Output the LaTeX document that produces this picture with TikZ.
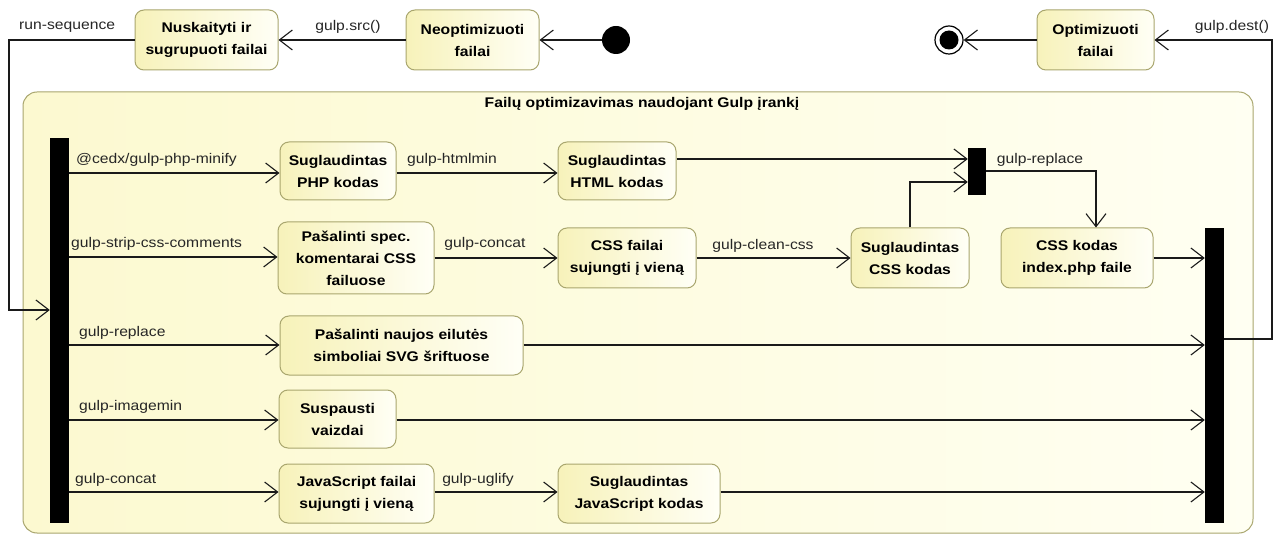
\documentclass[tikz,border=0pt]{standalone}
\usepackage{fontspec}
\setmainfont{Liberation Sans}[FakeStretch=1.12]
\usetikzlibrary{arrows.meta}
\definecolor{boxY}{HTML}{F7F2BA}
\definecolor{boxW}{HTML}{FFFFF6}
\definecolor{boxB}{HTML}{A9A66E}
\definecolor{contY}{HTML}{FCF9D0}
\definecolor{contW}{HTML}{FFFFF2}
\definecolor{lineC}{HTML}{1A1A1A}
\begin{document}
\begin{tikzpicture}[x=1pt,y=-1pt,
  act/.style={draw=boxB, line width=1pt, rounded corners=9pt, left color=boxY, right color=boxW,
    align=center, font=\fontsize{14}{22}\selectfont\bfseries, inner sep=0pt},
  bar/.style={fill=black, draw=none, inner sep=0pt},
  lbl/.style={font=\fontsize{14}{17}\selectfont, inner sep=0pt, text=black!85},
  flow/.style={draw=lineC, line width=1.1pt, -{Straight Barb[length=13pt,width=20pt,line width=1.1pt]}},
  plainline/.style={draw=lineC, line width=1.1pt}
]
\useasboundingbox (0,0) rectangle (1285,537);
\fill[white] (0,0) rectangle (1285,537);

% container
\node[draw=boxB, line width=1pt, rounded corners=14pt, left color=contY, right color=contW,
  minimum width=1230pt, minimum height=441pt, inner sep=0pt] (cont) at (638,312.5) {};
\node[font=\fontsize{14}{17}\selectfont\bfseries, inner sep=0pt] (title) at (642,104) {Failų optimizavimas naudojant Gulp įrankį};

% top row
\node[circle, fill=black, minimum size=28pt, inner sep=0pt] (init) at (616,40) {};
\node[act, minimum width=133pt, minimum height=60pt] (n0) at (472.5,40) {Neoptimizuoti\\failai};
\node[act, minimum width=143pt, minimum height=60pt] (n1) at (206.5,40) {Nuskaityti ir\\sugrupuoti failai};
\node[circle, draw=black, line width=1.2pt, fill=white, minimum size=28pt, inner sep=0pt] (fin) at (949,40) {};
\node[circle, fill=black, minimum size=19pt, inner sep=0pt] (finin) at (949,40) {};
\node[act, minimum width=117pt, minimum height=60pt] (opt) at (1095.5,40) {Optimizuoti\\failai};

% bars
\node[bar, minimum width=19pt, minimum height=385pt] (lbar) at (59.5,330.5) {};
\node[bar, minimum width=19pt, minimum height=295pt] (rbar) at (1214.5,375.5) {};
\node[bar, minimum width=18pt, minimum height=47pt] (sbar) at (977,171.5) {};

% activities
\node[act, minimum width=116pt, minimum height=58pt] (php) at (338,171) {Suglaudintas\\PHP kodas};
\node[act, minimum width=118pt, minimum height=58pt] (html) at (617,171) {Suglaudintas\\HTML kodas};
\node[act, minimum width=156pt, minimum height=72pt] (cmt) at (356,258) {Pašalinti spec.\\komentarai CSS\\failuose};
\node[act, minimum width=138pt, minimum height=60pt] (cssf) at (627,258) {CSS failai\\sujungti į vieną};
\node[act, minimum width=118pt, minimum height=60pt] (csc) at (910,258) {Suglaudintas\\CSS kodas};
\node[act, minimum width=152pt, minimum height=60pt] (idx) at (1077,258) {CSS kodas\\index.php faile};
\node[act, minimum width=243pt, minimum height=59pt] (svg) at (401.5,345.5) {Pašalinti naujos eilutės\\simboliai SVG šriftuose};
\node[act, minimum width=117pt, minimum height=58pt] (img) at (337.5,419) {Suspausti\\vaizdai};
\node[act, minimum width=155pt, minimum height=59pt] (js) at (356.5,493.5) {JavaScript failai\\sujungti į vieną};
\node[act, minimum width=162pt, minimum height=59pt] (jsc) at (639,493.5) {Suglaudintas\\JavaScript kodas};

% coordinates for free bends
\coordinate (rs1) at (9,40);
\coordinate (rs2) at (9,310);
\coordinate (gd1) at (1272,339);
\coordinate (gd2) at (1272,40);

% top connectors
\draw[flow] (init) -- (n0);
\draw[flow] (n0) -- (n1);
\draw[flow] (n1.west) -- (rs1) -- (rs2) -- (lbar.west |- rs2);
\draw[flow] (opt) -- (fin);
\draw[flow] (rbar.east |- gd1) -- (gd1) -- (gd2) -- (opt.east);

% row 1
\draw[flow] (lbar.east |- 0,173) -- (php.west |- 0,173);
\draw[flow] (php.east |- 0,173) -- (html.west |- 0,173);
\draw[flow] (html.east |- 0,159) -- (sbar.west |- 0,159);
\draw[flow] (sbar.east |- 0,171) -| (idx.north -| 1096,0);
\draw[flow] (csc.north) |- (sbar.west |- 0,182);
% row 2
\draw[flow] (lbar.east |- 0,257) -- (cmt.west |- 0,257);
\draw[flow] (cmt.east |- 0,258) -- (cssf.west |- 0,258);
\draw[flow] (cssf.east) -- (csc.west);
\draw[flow] (idx.east) -- (rbar.west |- idx.east);
% row 3
\draw[flow] (lbar.east |- 0,345) -- (svg.west |- 0,345);
\draw[flow] (svg.east |- 0,345) -- (rbar.west |- 0,345);
% row 4
\draw[flow] (lbar.east |- 0,420) -- (img.west |- 0,420);
\draw[flow] (img.east |- 0,420) -- (rbar.west |- 0,420);
% row 5
\draw[flow] (lbar.east |- 0,492) -- (js.west |- 0,492);
\draw[flow] (js.east |- 0,492) -- (jsc.west |- 0,492);
\draw[flow] (jsc.east |- 0,492) -- (rbar.west |- 0,492);

% labels
\node[lbl, anchor=west] (l_rs) at (19,27) {run-sequence};
\node[lbl] (l_src) at (348,27) {gulp.src()};
\node[lbl] (l_dest) at (1232,27) {gulp.dest()};
\node[lbl, anchor=west] (l_php) at (76,160) {@cedx/gulp-php-minify};
\node[lbl] (l_htm) at (452,160) {gulp-htmlmin};
\node[lbl] (l_rep1) at (1040,160) {gulp-replace};
\node[lbl, anchor=west] (l_strip) at (71,244) {gulp-strip-css-comments};
\node[lbl] (l_cc1) at (485,244) {gulp-concat};
\node[lbl] (l_clean) at (763,246) {gulp-clean-css};
\node[lbl, anchor=west] (l_rep2) at (79,333) {gulp-replace};
\node[lbl, anchor=west] (l_img) at (79,407) {gulp-imagemin};
\node[lbl, anchor=west] (l_cc2) at (75,480) {gulp-concat};
\node[lbl] (l_ugl) at (478,480) {gulp-uglify};
\end{tikzpicture}
\end{document}
